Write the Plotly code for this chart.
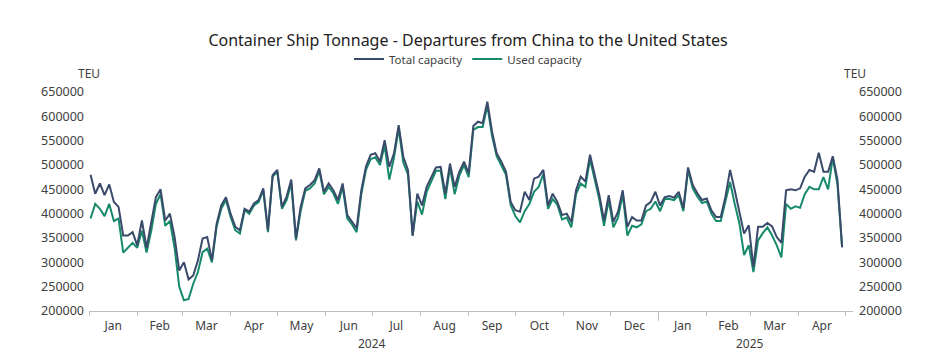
import pandas as pd
import plotly.graph_objects as go

start_date = "2024-01-02"
step = "3D"

total_capacity = [
    480000, 441000, 462000, 438000, 460000, 424000, 414000, 355000, 355000, 362000,
    335000, 386000, 330000, 379000, 434000, 450000, 386000, 400000, 352000, 283000,
    300000, 265000, 273000, 304000, 349000, 352000, 304000, 379000, 417000, 434000,
    400000, 373000, 366000, 410000, 404000, 421000, 428000, 452000, 366000, 479000,
    490000, 414000, 435000, 470000, 349000, 414000, 452000, 459000, 469000, 493000,
    445000, 462000, 448000, 428000, 462000, 397000, 383000, 370000, 448000, 497000,
    521000, 524000, 507000, 551000, 496000, 524000, 582000, 517000, 490000, 355000,
    441000, 417000, 455000, 476000, 495000, 496000, 441000, 503000, 455000, 486000,
    507000, 483000, 580000, 589000, 586000, 630000, 569000, 524000, 507000, 486000,
    424000, 407000, 404000, 445000, 428000, 472000, 476000, 490000, 417000, 441000,
    424000, 397000, 400000, 383000, 448000, 476000, 466000, 521000, 479000, 438000,
    386000, 438000, 383000, 404000, 448000, 373000, 393000, 386000, 386000, 417000,
    424000, 445000, 417000, 434000, 436000, 433000, 445000, 411000, 495000, 459000,
    442000, 428000, 431000, 407000, 393000, 393000, 435000, 490000, 448000, 400000,
    359000, 376000, 290000, 373000, 373000, 381000, 374000, 352000, 340000, 448000,
    450000, 448000, 452000, 476000, 490000, 486000, 525000, 486000, 486000, 518000,
    470000, 331000,
]

used_capacity = [
    390000, 420000, 410000, 395000, 420000, 385000, 390000, 320000, 330000, 340000,
    330000, 365000, 320000, 365000, 420000, 440000, 375000, 385000, 330000, 250000,
    222000, 225000, 256000, 280000, 321000, 328000, 300000, 373000, 410000, 428000,
    393000, 366000, 359000, 407000, 400000, 417000, 424000, 448000, 362000, 476000,
    486000, 410000, 428000, 462000, 345000, 405000, 447000, 452000, 462000, 488000,
    440000, 455000, 442000, 420000, 455000, 390000, 378000, 362000, 440000, 490000,
    512000, 516000, 500000, 540000, 470000, 515000, 575000, 505000, 480000, 355000,
    425000, 398000, 445000, 468000, 488000, 488000, 430000, 495000, 440000, 478000,
    500000, 475000, 572000, 578000, 578000, 622000, 560000, 518000, 500000, 480000,
    418000, 395000, 382000, 405000, 420000, 445000, 455000, 482000, 410000, 430000,
    418000, 388000, 392000, 372000, 440000, 462000, 455000, 512000, 470000, 428000,
    375000, 428000, 372000, 392000, 440000, 355000, 375000, 372000, 378000, 405000,
    410000, 425000, 405000, 430000, 430000, 428000, 438000, 405000, 490000, 452000,
    435000, 422000, 425000, 400000, 385000, 385000, 425000, 465000, 420000, 380000,
    315000, 335000, 280000, 345000, 360000, 372000, 355000, 335000, 310000, 420000,
    410000, 415000, 412000, 440000, 455000, 450000, 450000, 475000, 450000, 515000,
    460000, 331000,
]

dates = pd.date_range(start_date, periods=len(total_capacity), freq=step)

y_ticks = [200000, 250000, 300000, 350000, 400000, 450000, 500000, 550000, 600000, 650000]
year_labels = [("2024-07-01", "2024"), ("2025-03-01", "2025")]

FONT = "Noto Sans"
TEXT = "#404040"
TOTAL_COLOR = "#3A4A6B"
USED_COLOR = "#168A6B"

W, H = 920, 344  # page body has an 8px margin; the 936x360 window is filled exactly

fig = go.Figure()
fig.add_trace(go.Scatter(x=dates, y=used_capacity, name="Used capacity", mode="lines",
                         line=dict(color=USED_COLOR, width=2), legendrank=2, yaxis="y"))
fig.add_trace(go.Scatter(x=dates, y=total_capacity, name="Total capacity", mode="lines",
                         line=dict(color=TOTAL_COLOR, width=2), legendrank=1, yaxis="y2"))

fig.update_layout(
    width=W, height=H,
    margin=dict(l=81, r=75, t=84, b=41, autoexpand=False),
    paper_bgcolor="white", plot_bgcolor="white",
    font=dict(family=FONT, size=12, color=TEXT),
    title=dict(text="Container Ship Tonnage - Departures from China to the United States",
               x=0.5, xanchor="center", y=1 - 32 / H, yanchor="middle",
               font=dict(family=FONT, size=16, color="#222222")),
    legend=dict(orientation="h", x=0.5, xanchor="center", xref="container",
                y=1 - 51 / H, yref="container", yanchor="middle",
                font=dict(size=11.5, color=TEXT), itemwidth=30, tracegroupgap=0,
                bgcolor="rgba(0,0,0,0)"),
    showlegend=True,
    xaxis=dict(type="date", range=["2024-01-01", "2025-05-06"], dtick="M1",
               tick0="2024-01-01", tickformat="%b", ticklabelmode="period",
               showgrid=False, showline=True, linecolor="#bfbfbf", linewidth=1,
               ticks="outside", ticklen=4, tickcolor="#bfbfbf",
               tickfont=dict(size=12, color=TEXT), zeroline=False),
    yaxis=dict(range=[200000, 650000], tickvals=y_ticks, showgrid=False, zeroline=False,
               showline=False, ticks="", tickformat="d", ticklabelstandoff=4,
               tickfont=dict(size=12.5, color=TEXT)),
    yaxis2=dict(range=[200000, 650000], tickvals=y_ticks, overlaying="y", side="right",
                showgrid=False, zeroline=False, showline=False, ticks="", tickformat="d",
                ticklabelstandoff=5, tickfont=dict(size=12.5, color=TEXT),
                showticklabels=True),
)

annotations = []
for xv, txt in year_labels:
    annotations.append(dict(x=xv, y=0, xref="x", yref="paper", text=txt, showarrow=False,
                            yanchor="top", yshift=-22, font=dict(size=12, color=TEXT)))
annotations.append(dict(x=0, y=1, xref="paper", yref="paper", text="TEU", showarrow=False,
                        xanchor="center", yanchor="middle", yshift=19,
                        font=dict(size=12, color=TEXT)))
annotations.append(dict(x=1, y=1, xref="paper", yref="paper", text="TEU", showarrow=False,
                        xanchor="center", yanchor="middle", yshift=19, xshift=2,
                        font=dict(size=12, color=TEXT)))
fig.update_layout(annotations=annotations)

fig.add_shape(type="line", x0="2025-01-01", x1="2025-01-01", xref="x", yref="paper",
              y0=0, y1=-0.045, line=dict(color="#bfbfbf", width=1))

fig.write_html("out.html")
